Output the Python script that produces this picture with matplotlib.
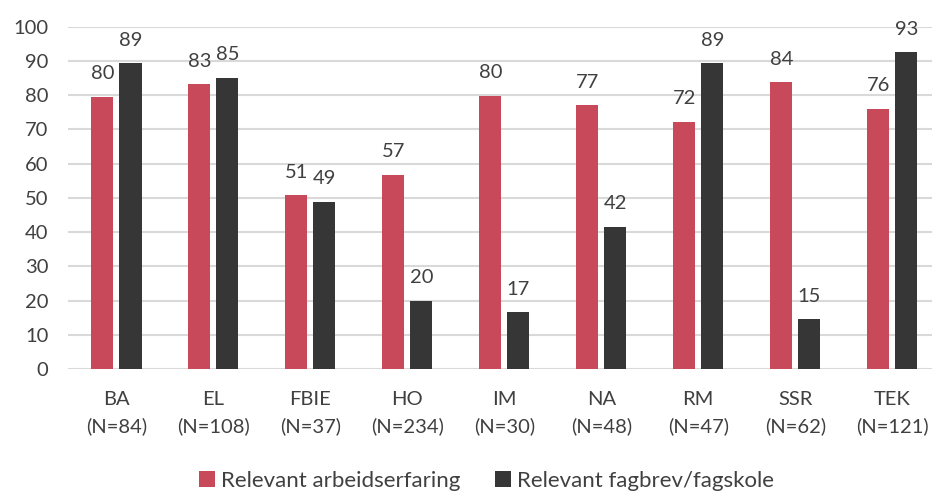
import numpy as np
import matplotlib.pyplot as plt

# Data
kategorier = ['BA', 'EL', 'FBIE', 'HO', 'IM', 'NA', 'RM', 'SSR', 'TEK']
antall = [84, 108, 37, 234, 30, 48, 47, 62, 121]
arbeidserfaring = [79.6, 83.2, 50.8, 56.8, 79.9, 77.0, 72.3, 83.8, 76.0]
fagbrev = [89.3, 85.1, 48.9, 20.0, 16.6, 41.6, 89.3, 14.6, 92.6]
serier = ['Relevant arbeidserfaring', 'Relevant fagbrev/fagskole']

farge_rod = '#C84A5A'
farge_mork = '#363636'
tekst_farge = '#404040'

plt.rcParams['font.family'] = ['Lato', 'DejaVu Sans']

fig = plt.figure(figsize=(9.32, 4.93), dpi=100)
ax = fig.add_axes([68 / 932, 124 / 493, 864 / 932, 342.3 / 493])

x = np.arange(len(kategorier))
bredde = 0.227
avstand = 0.289

b1 = ax.bar(x - avstand / 2, arbeidserfaring, bredde, color=farge_rod, label=serier[0], zorder=3)
b2 = ax.bar(x + avstand / 2, fagbrev, bredde, color=farge_mork, label=serier[1], zorder=3)

# Dataetiketter
for bars in (b1, b2):
    for rect in bars:
        h = rect.get_height()
        ax.annotate(f'{h:.0f}', (rect.get_x() + rect.get_width() / 2, h),
                    xytext=(0, 12.5), textcoords='offset points',
                    ha='center', va='baseline', fontsize=14.5, color=tekst_farge)

ax.set_ylim(0, 100)
ax.set_xlim(-0.5, 8.41)
ax.set_yticks(range(0, 101, 10))
ax.yaxis.grid(True, color='#D9D9D9', linewidth=1.5, zorder=0)
ax.set_axisbelow(True)
for s in ax.spines.values():
    s.set_visible(False)
ax.tick_params(axis='both', length=0)
ax.tick_params(axis='y', labelsize=14.5, labelcolor=tekst_farge, pad=14)

ax.set_xticks(x)
ax.set_xticklabels([f'{k}\n(N={n})' for k, n in zip(kategorier, antall)],
                   fontsize=14.5, color=tekst_farge, linespacing=1.6)
ax.tick_params(axis='x', pad=16)

leg = fig.legend(loc='center', bbox_to_anchor=(0.522, 12 / 493), ncol=2, frameon=False,
                 handlelength=0.7, handleheight=0.7, columnspacing=1.6, handletextpad=0.25,
                 prop={'size': 16})
for t in leg.get_texts():
    t.set_color(tekst_farge)

plt.savefig('out.png', dpi=100)
